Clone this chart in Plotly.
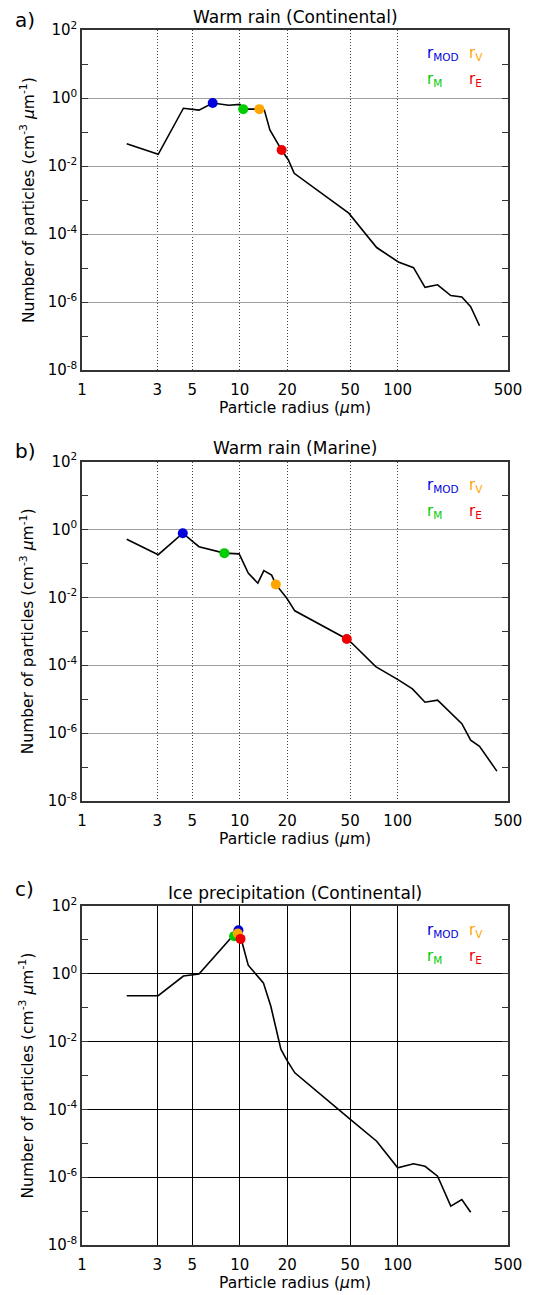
import plotly.graph_objects as go
from plotly.subplots import make_subplots

# particle size distributions (radius in um, N in cm-3 um-1)
radius_cont = [1.92, 3.04, 4.39, 5.51, 6.73, 8.5, 10.0, 10.5, 13.3, 14.3, 15.5, 18.4,
               20.3, 22.1, 49, 73.6, 101, 126, 149, 179, 217, 255, 290, 330]
nconc_cont = [0.045, 0.022, 0.5, 0.44, 0.71, 0.61, 0.65, 0.47, 0.47, 0.44, 0.115, 0.0295,
              0.015, 0.0061, 4.1e-4, 4e-5, 1.5e-5, 1.02e-5, 2.7e-6, 3.2e-6, 1.55e-6, 1.4e-6,
              7.3e-7, 2e-7]

radius_mar = [1.92, 3.04, 4.35, 5.51, 7.98, 9.9, 11.3, 13.0, 14.2, 15.9, 16.9, 19.8,
              22.3, 47.6, 51.2, 72.6, 101, 124, 149, 179, 255, 290, 330, 425]
nconc_mar = [0.51, 0.18, 0.77, 0.31, 0.2, 0.19, 0.052, 0.026, 0.061, 0.045, 0.024, 0.0095,
             0.004, 5.9e-4, 4.5e-4, 9.1e-5, 3.7e-5, 2e-5, 8.1e-6, 9.3e-6, 1.9e-6, 6.2e-7,
             4.1e-7, 7.6e-8]

radius_ice = [1.92, 3.04, 4.39, 5.51, 9.1, 10.0, 11.3, 14.1, 15.7, 18.2, 19.8, 22.3,
              49.9, 73.6, 100, 126, 149, 179, 217, 255, 290]
nconc_ice = [0.226, 0.226, 0.86, 0.98, 13.8, 15.0, 1.8, 0.54, 0.112, 0.006, 0.0029, 0.0012,
             5.2e-5, 1.15e-5, 1.9e-6, 2.5e-6, 2.1e-6, 1.07e-6, 1.4e-7, 2.2e-7, 9.3e-8]

# characteristic radii (r_MOD, r_M, r_V, r_E) as (radius, N)
radii_names = ['MOD', 'M', 'V', 'E']
radii_cont = [(6.73, 0.71), (10.5, 0.47), (13.3, 0.47), (18.4, 0.0295)]
radii_mar = [(4.35, 0.77), (7.98, 0.2), (16.9, 0.024), (47.6, 5.9e-4)]
radii_ice = [(9.8, 19.3), (9.2, 12.9), (9.7, 15.4), (10.1, 10.7)]

titles = ['Warm rain (Continental)', 'Warm rain (Marine)', 'Ice precipitation (Continental)']
panel_tags = ['a)', 'b)', 'c)']
tag_y = [20, 451, 889]

x_ticks = [1, 3, 5, 10, 20, 50, 100, 500]
y_major = [1e-8, 1e-6, 1e-4, 1e-2, 1e0, 1e2]
y_labels = ['10<sup>-8</sup>', '10<sup>-6</sup>', '10<sup>-4</sup>', '10<sup>-2</sup>',
            '10<sup>0</sup>', '10<sup>2</sup>']
y_minor = [1e-7, 1e-5, 1e-3, 1e-1, 1e1]

colors = {'MOD': '#0000dd', 'M': '#00cc00', 'V': '#ffa500', 'E': '#ee0000'}

FONT = 'DejaVu Sans'
# the page puts the figure 8px in from the top-left corner
OFF = 8
W, H = 520, 1287


def fx(px):
    return (px - OFF) / W


def fy(py):
    return 1 - (py - OFF) / H


# plot boxes in page pixels (left, right, top, bottom)
boxes = [(82, 508, 30, 370), (82, 508, 461.5, 801), (82, 508, 906, 1245)]

fig = make_subplots(rows=3, cols=1)

series = [(radius_cont, nconc_cont, radii_cont),
          (radius_mar, nconc_mar, radii_mar),
          (radius_ice, nconc_ice, radii_ice)]

for i, (rad, nc, pts) in enumerate(series):
    row = i + 1
    fig.add_trace(go.Scatter(x=rad, y=nc, mode='lines',
                             line=dict(color='black', width=1.6),
                             showlegend=False), row=row, col=1)
    # blue, green, orange, red draw order
    for name, (rx, ny) in zip(radii_names, pts):
        fig.add_trace(go.Scatter(x=[rx], y=[ny], mode='markers',
                                 marker=dict(color=colors[name], size=10),
                                 showlegend=False), row=row, col=1)

    l, r, t, b = boxes[i]
    ice = (i == 2)
    vgrid = 'black' if ice else '#444444'
    hgrid = 'black' if ice else '#a0a0a0'

    fig.update_xaxes(type='log', range=[0, 2.69897], domain=[fx(l), fx(r)], automargin=False,
                     tickvals=x_ticks, ticktext=[str(v) for v in x_ticks],
                     ticks='', ticklabelstandoff=5,
                     showgrid=True, gridcolor=vgrid, gridwidth=1,
                     griddash='solid' if ice else '1px,2px',
                     showline=True, linecolor='#333333', linewidth=1.5, mirror=True,
                     tickfont=dict(family=FONT, size=15, color='black'),
                     zeroline=False, row=row, col=1)
    fig.update_yaxes(type='log', range=[-8, 2], domain=[fy(b), fy(t)], automargin=False,
                     tickvals=y_major, ticktext=y_labels,
                     ticks='inside', ticklen=6, tickcolor='#333333',
                     minor=dict(tickvals=y_minor, ticks='inside', ticklen=6,
                                tickcolor='#333333', showgrid=False),
                     showgrid=True, gridcolor=hgrid, gridwidth=1.2,
                     showline=True, linecolor='#333333', linewidth=1.5, mirror='ticks',
                     tickfont=dict(family=FONT, size=15, color='black'),
                     zeroline=False, row=row, col=1)

    # title, panel tag, axis titles
    fig.add_annotation(text=titles[i], xref='paper', yref='paper',
                       x=fx((l + r) / 2), y=fy(t - 13), showarrow=False,
                       xanchor='center', yanchor='middle',
                       font=dict(family=FONT, size=17, color='black'))
    fig.add_annotation(text=panel_tags[i], xref='paper', yref='paper',
                       x=fx(13), y=fy(tag_y[i]), xanchor='left', yanchor='middle',
                       showarrow=False,
                       font=dict(family=FONT, size=20, color='black'))
    fig.add_annotation(text='Particle radius (<i>μ</i>m)', xref='paper', yref='paper',
                       x=fx((l + r) / 2), y=fy(b + 38), showarrow=False,
                       xanchor='center', yanchor='middle',
                       font=dict(family=FONT, size=15.5, color='black'))
    fig.add_annotation(text='Number of particles (cm<sup>-3</sup> <i>μ</i>m<sup>-1</sup>)',
                       xref='paper', yref='paper', textangle=-90,
                       x=fx(27), y=fy((t + b) / 2), showarrow=False,
                       xanchor='center', yanchor='middle',
                       font=dict(family=FONT, size=15.5, color='black'))

    # legend of characteristic radii
    leg_pos = {'MOD': (425, t + 24), 'V': (467, t + 24), 'M': (425, t + 50), 'E': (467, t + 50)}
    for name in radii_names:
        px_, py_ = leg_pos[name]
        fig.add_annotation(text='r<sub>%s</sub>' % name, xref='paper', yref='paper',
                           x=fx(px_), y=fy(py_), xanchor='left', yanchor='middle',
                           showarrow=False,
                           font=dict(family=FONT, size=15, color=colors[name]))

fig.update_layout(
    width=W, height=H,
    margin=dict(l=0, r=0, t=0, b=0),
    plot_bgcolor='white', paper_bgcolor='white',
    showlegend=False,
)

fig.write_html("out.html")
